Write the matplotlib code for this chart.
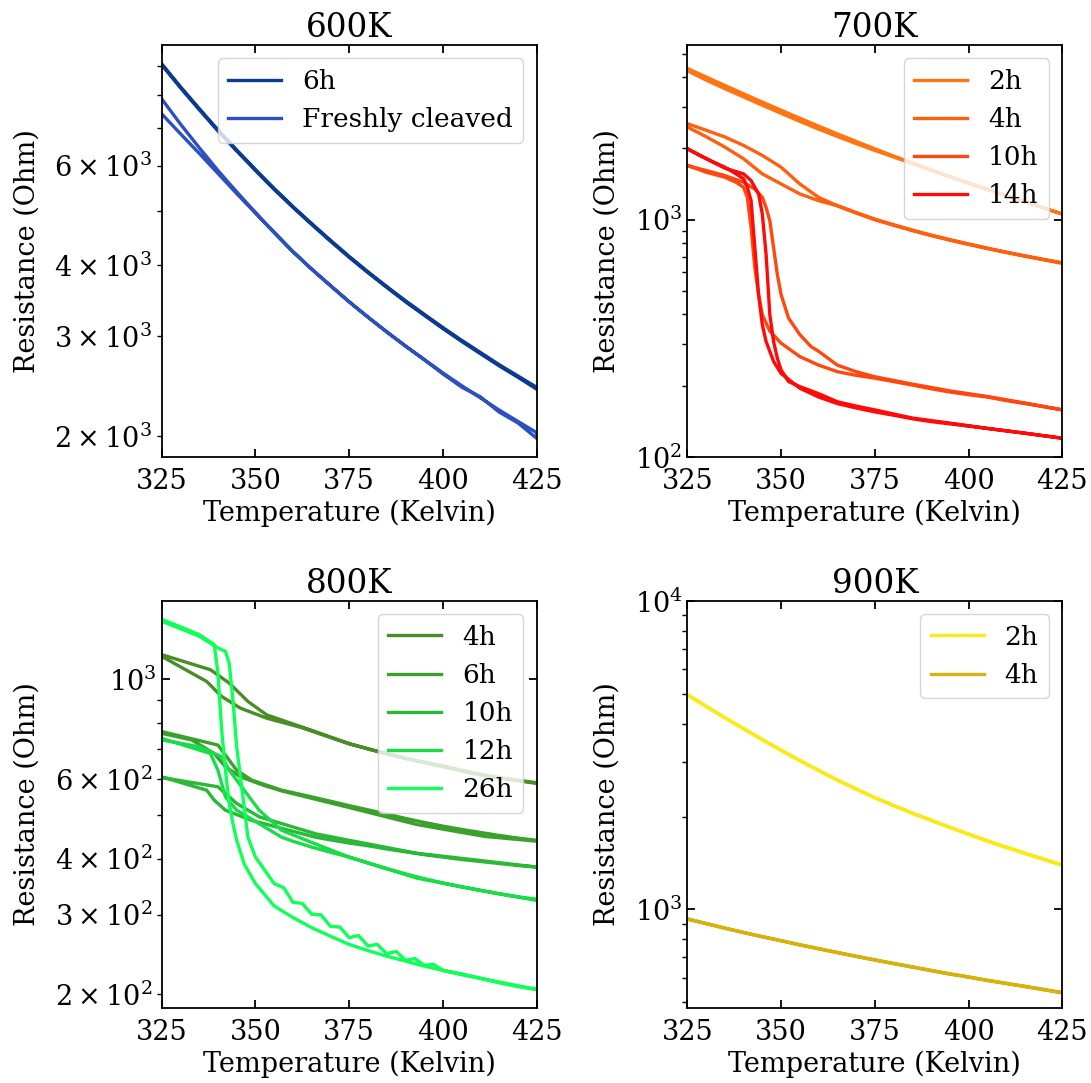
import matplotlib
matplotlib.use("Agg")
import matplotlib.pyplot as plt

plt.rcParams['font.family'] = 'DejaVu Serif'
plt.rcParams['mathtext.fontset'] = 'dejavuserif'
plt.rcParams['font.size'] = 19.5
plt.rcParams['axes.linewidth'] = 1.3

# temperature grid for the smooth sweeps (Kelvin)
T_FINE = [325, 330, 335, 340, 345, 350, 355, 360, 365, 370, 375,
          380, 385, 390, 395, 400, 405, 410, 415, 420, 425]

# ---- 600K anneal ----
r600_6h_up = [9078, 8270, 7568, 6941, 6397, 5908, 5470, 5082, 4742, 4432, 4150,
              3899, 3673, 3467, 3281, 3108, 2951, 2809, 2673, 2553, 2438]
r600_6h_dn = [9040, 8235, 7535, 6910, 6370, 5885, 5450, 5065, 4725, 4415, 4135,
              3885, 3660, 3452, 3268, 3095, 2938, 2795, 2660, 2540, 2420]
r600_fc_up = [7870, 7106, 6457, 5884, 5395, 4960, 4576, 4231, 3941, 3686, 3451,
              3243, 3055, 2884, 2729, 2585, 2455, 2336, 2223, 2123, 2028]
r600_fc_dn = [7406, 6831, 6310, 5815, 5358, 4949, 4571, 4231, 3941, 3686, 3451,
              3243, 3055, 2884, 2729, 2575, 2440, 2345, 2205, 2110, 1982]

# ---- 700K anneal ----
r700_2h_up = [4345, 3998, 3681, 3395, 3133, 2896, 2679, 2482, 2301, 2140, 1991,
              1857, 1734, 1623, 1521, 1428, 1343, 1265, 1191, 1122, 1057]
r700_2h_dn = [4250, 3880, 3570, 3295, 3040, 2810, 2600, 2410, 2245, 2095, 1960,
              1840, 1725, 1618, 1518, 1426, 1342, 1264, 1190, 1121, 1057]

t700_4h_up = [325, 330, 335, 340, 345, 350, 355, 360, 365, 370, 375, 380, 385, 390,
              395, 400, 405, 410, 415, 420, 425]
r700_4h_up = [2542, 2385, 2233, 2058, 1867, 1666, 1416, 1243, 1146, 1073, 1007, 953, 905, 862,
              825, 791, 760, 731, 705, 681, 659]
t700_4h_dn = [325, 330, 335, 340, 345, 350, 355, 360, 365, 370, 375, 380, 385, 390,
              395, 400, 405, 410, 415, 420, 425]
r700_4h_dn = [2461, 2240, 2025, 1808, 1561, 1416, 1285, 1204, 1146, 1068, 1000, 948, 900, 858,
              820, 787, 756, 728, 702, 678, 655]

t700_10h_up = [325, 330, 335, 338, 340, 341, 342, 343, 344, 345, 347, 350, 355, 360, 365, 370,
               375, 380, 385, 390, 395, 400, 405, 410, 415, 420, 425]
r700_10h_up = [1694, 1587, 1511, 1439, 1371, 1243, 928, 628, 484, 398, 339, 302, 265, 244, 229, 221,
               215, 208, 201, 194, 188, 183, 179, 173, 168, 163, 158]
t700_10h_dn = [325, 335, 340, 343, 345, 346, 347, 348, 349, 350, 352, 355, 358, 360, 365, 370,
               375, 385, 395, 405, 415, 425]
r700_10h_dn = [1694, 1536, 1439, 1348, 1243, 1127, 990, 764, 589, 484, 385, 328, 292, 279, 244, 229,
               218, 203, 190, 180, 169, 158]

t700_14h_up = [325, 330, 335, 338, 340, 341, 342, 343, 344, 345, 346, 348, 350, 355, 360, 365, 370,
               375, 380, 385, 390, 395, 400, 405, 410, 415, 420, 425]
r700_14h_up = [1992, 1808, 1666, 1561, 1487, 1371, 1204, 764, 484, 361, 307, 253, 225, 195, 179, 168, 161,
               155, 150, 145, 141, 138, 135, 132, 129, 126, 123, 120]
t700_14h_dn = [325, 335, 340, 342, 344, 345, 346, 347, 348, 349, 350, 352, 355, 360, 365, 370,
               375, 385, 395, 405, 415, 425]
r700_14h_dn = [1992, 1650, 1561, 1463, 1285, 1057, 715, 398, 307, 261, 233, 208, 198, 185, 171, 164,
               158, 146, 139, 132, 126, 120]

# ---- 800K anneal ----
t800_4h_up = [325, 338, 343, 348, 353, 362, 365, 370, 375, 380, 385, 390, 395, 400, 405, 410,
              415, 420, 425]
r800_4h_up = [1133, 1049, 980, 892, 833, 785, 770, 744, 720, 700, 682, 667, 655, 642, 628, 615,
              605, 597, 589]
t800_4h_dn = [325, 333, 337, 341, 346, 353, 362, 375, 393, 411, 425]
r800_4h_dn = [1123, 1031, 988, 915, 862, 819, 782, 718, 658, 610, 587]

t800_6h_up = [325, 340, 345, 349, 357, 360, 365, 370, 375, 380, 385, 390, 395, 400, 405, 410,
              415, 420, 425]
r800_6h_up = [765, 714, 628, 597, 567, 560, 548, 536, 524, 513, 502, 491, 481, 472, 464, 457,
              450, 444, 439]
t800_6h_dn = [325, 333, 339, 342, 346, 352, 357, 375, 393, 411, 425]
r800_6h_dn = [758, 733, 684, 639, 607, 582, 565, 519, 476, 448, 437]

t800_10h_up = [325, 337, 339, 342, 349, 366, 370, 375, 380, 385, 390, 395, 400, 405, 410,
               415, 420, 425]
r800_10h_up = [607, 567, 539, 512, 486, 446, 440, 433, 427, 420, 414, 408, 403, 398, 394,
               390, 386, 383]
t800_10h_dn = [325, 340, 345, 351, 366, 375, 393, 410, 425]
r800_10h_dn = [605, 577, 530, 495, 454, 439, 411, 396, 383]

t800_12h_up = [325, 338, 340, 342, 345, 357, 360, 365, 370, 375, 380, 385, 390, 395, 400,
               405, 410, 415, 420, 425]
r800_12h_up = [739, 684, 628, 548, 512, 446, 437, 424, 413, 403, 391, 380, 370, 361, 353,
               346, 340, 334, 329, 325]
t800_12h_dn = [325, 335, 341, 343, 347, 351, 357, 366, 375, 393, 410, 425]
r800_12h_dn = [733, 708, 673, 628, 567, 512, 462, 431, 403, 362, 340, 323]

t800_26h_up = [325, 330, 335, 339, 340, 341, 342, 343, 344, 345, 347, 350, 355, 360, 365, 370,
               375, 380, 385, 390, 395, 400, 405, 410, 415, 420, 425]
r800_26h_up = [1356, 1306, 1255, 1193, 1031, 771, 628, 530, 478, 439, 389, 352, 314, 296, 281, 269,
               258, 250, 243, 237, 231, 226, 222, 217, 212, 208, 205]
t800_26h_dn = [325, 335, 340, 342, 343, 344, 345, 346, 347, 348, 349, 350, 355, 357.5, 360,
               362.5, 365, 367.5, 370, 372.5, 375, 377.5, 380, 382.5, 385, 387.5, 390, 392.5,
               395, 397.5, 400, 405, 415, 425]
r800_26h_dn = [1344, 1245, 1172, 1152, 1085, 899, 708, 607, 521, 446, 424, 403, 352, 345, 320,
               318, 301, 300, 283, 282, 267, 270, 256, 258, 246, 249, 238, 240,
               232, 233, 226, 221, 213, 205]

# ---- 900K anneal ----
r900_2h_up = [4977, 4560, 4188, 3858, 3556, 3287, 3041, 2826, 2630, 2461, 2307,
              2176, 2056, 1949, 1849, 1757, 1671, 1595, 1524, 1458, 1396]
r900_2h_dn = [4960, 4548, 4178, 3850, 3548, 3280, 3035, 2820, 2624, 2455, 2300,
              2170, 2050, 1942, 1843, 1750, 1665, 1588, 1518, 1452, 1390]
r900_4h_up = [933, 901, 871, 843, 817, 793, 769, 747, 726, 706, 687,
              669, 652, 635, 619, 605, 590, 577, 564, 551, 538]
r900_4h_dn = [930, 899, 869, 841, 815, 791, 767, 745, 724, 704, 685,
              667, 650, 633, 617, 603, 588, 575, 562, 549, 536]


def loop(t_up, r_up, t_dn, r_dn):
    # heating sweep followed by the cooling sweep, as one trace
    return list(t_up) + list(t_dn)[::-1], list(r_up) + list(r_dn)[::-1]


panels = [
    ('600K', [
        ('6h', '#0b3b91', T_FINE, r600_6h_up, T_FINE, r600_6h_dn),
        ('Freshly cleaved', '#2c50bf', T_FINE, r600_fc_up, T_FINE, r600_fc_dn),
    ]),
    ('700K', [
        ('2h', '#ff7512', T_FINE, r700_2h_up, T_FINE, r700_2h_dn),
        ('4h', '#ff6010', t700_4h_up, r700_4h_up, t700_4h_dn, r700_4h_dn),
        ('10h', '#ff4810', t700_10h_up, r700_10h_up, t700_10h_dn, r700_10h_dn),
        ('14h', '#ff0a0a', t700_14h_up, r700_14h_up, t700_14h_dn, r700_14h_dn),
    ]),
    ('800K', [
        ('4h', '#4a8c26', t800_4h_up, r800_4h_up, t800_4h_dn, r800_4h_dn),
        ('6h', '#3ca02c', t800_6h_up, r800_6h_up, t800_6h_dn, r800_6h_dn),
        ('10h', '#2ab836', t800_10h_up, r800_10h_up, t800_10h_dn, r800_10h_dn),
        ('12h', '#1adc48', t800_12h_up, r800_12h_up, t800_12h_dn, r800_12h_dn),
        ('26h', '#10ff58', t800_26h_up, r800_26h_up, t800_26h_dn, r800_26h_dn),
    ]),
    ('900K', [
        ('2h', '#fbe91c', T_FINE, r900_2h_up, T_FINE, r900_2h_dn),
        ('4h', '#d5b20f', T_FINE, r900_4h_up, T_FINE, r900_4h_dn),
    ]),
]

# axes rectangles in figure fractions
rects = [
    (0.1482, 0.5780, 0.3437, 0.3804),
    (0.6300, 0.5780, 0.3437, 0.3804),
    (0.1482, 0.0693, 0.3437, 0.3758),
    (0.6300, 0.0693, 0.3437, 0.3758),
]

fig = plt.figure(figsize=(10.91, 10.83), dpi=100)

for (title, series), rect in zip(panels, rects):
    ax = fig.add_axes(rect)
    for label, color, t_up, r_up, t_dn, r_dn in series:
        t, r = loop(t_up, r_up, t_dn, r_dn)
        ax.plot(t, r, color=color, lw=2.4, label=label)
    ax.set_yscale('log')
    ax.set_xlim(325, 425)
    ax.set_xticks([325, 350, 375, 400, 425])
    if title == '700K':
        ax.set_ylim(100, 5450)
    if title == '900K':
        ax.set_ylim(top=1e4)
    ax.set_title(title, fontsize=23.5)
    ax.set_xlabel('Temperature (Kelvin)', labelpad=3)
    ax.set_ylabel('Resistance (Ohm)', labelpad=10)
    ax.tick_params(which='major', direction='in', top=True, right=True,
                   length=6, width=1.3)
    ax.tick_params(axis='x', which='major', pad=8)
    ax.tick_params(which='minor', length=3.5, width=1.0)
    ax.legend(loc='upper right', fontsize=19)

fig.savefig('out.png', dpi=100)
